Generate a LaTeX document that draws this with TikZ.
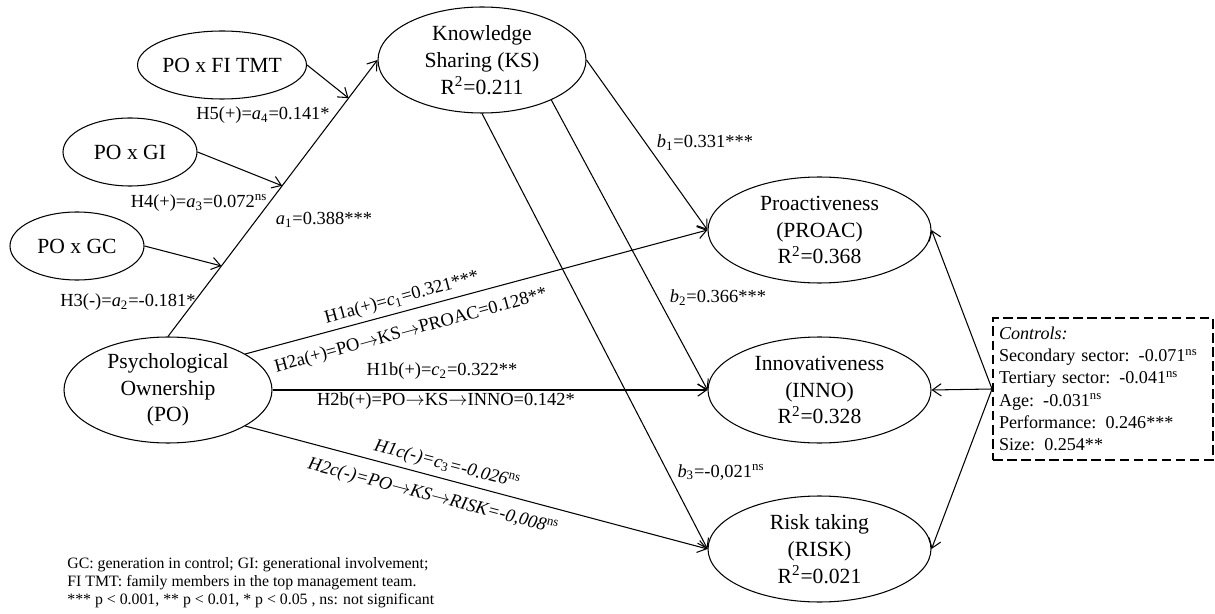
\documentclass[tikz,border=0pt]{standalone}
\usepackage{fontspec}
\setmainfont{Liberation Serif}
\usetikzlibrary{shapes.geometric, arrows.meta}

\tikzset{
  construct/.style={draw, ellipse, inner sep=0pt, align=center, line width=0.6pt, font=\fontsize{12.3}{15.2}\selectfont},
  moderator/.style={construct, minimum width=2.68cm, minimum height=1.36cm},
  latent/.style={construct, minimum width=4.16cm, minimum height=2.12cm},
  outcome/.style={construct, minimum width=4.46cm, minimum height=2.12cm},
  effect/.style={-{Straight Barb[length=5pt,width=7pt]}, line width=0.6pt},
  coef/.style={font=\fontsize{10.5}{12}\selectfont, inner sep=0pt},
}

\begin{document}
\begin{tikzpicture}
\useasboundingbox (0,0) rectangle (24.3,12.26);

% constructs
\node[moderator] (FI) at (4.44,10.96) {PO x FI TMT};
\node[moderator] (GI) at (2.60,9.22) {PO x GI};
\node[moderator] (GC) at (1.54,7.34) {PO x GC};
\node[latent] (KS) at (9.64,11.06) {Knowledge\\Sharing (KS)\\R\textsuperscript{2}=0.211};
\node[latent] (PO) at (3.36,4.46) {Psychological\\Ownership\\(PO)};
\node[outcome] (PROAC) at (16.39,7.66) {Proactiveness\\(PROAC)\\R\textsuperscript{2}=0.368};
\node[outcome] (INNO) at (16.39,4.46) {Innovativeness\\(INNO)\\R\textsuperscript{2}=0.328};
\node[outcome] (RISK) at (16.39,1.28) {Risk taking\\(RISK)\\R\textsuperscript{2}=0.021};
\node[draw, line width=1.1pt, dash pattern=on 5.5pt off 2.5pt, align=left, text width=4.16cm, inner xsep=0.12cm, minimum height=2.84cm, font=\fontsize{10.3}{12.7}\selectfont] (CTRL) at (22.06,4.48)
  {\textit{Controls:}\\Secondary sector: -0.071\textsuperscript{ns}\\Tertiary sector: -0.041\textsuperscript{ns}\\Age: -0.031\textsuperscript{ns}\\Performance: 0.246***\\Size: 0.254**};

% PO -> KS with moderators
\draw[effect] (PO.north) -- coordinate[pos=0.255] (xGC) coordinate[pos=0.545] (xGI) coordinate[pos=0.862] (xFI) (KS.west);
\draw[effect] (FI.east) -- (xFI);
\draw[effect] (GI.east) -- (xGI);
\draw[effect] (GC.east) -- (xGC);

% direct effects
\draw[effect] (PO.25) -- (PROAC.west);
\draw[effect] (PO.east) -- (INNO.west);
\draw[effect] (PO.-25) -- (RISK.west);

% KS -> outcomes
\draw[effect] (KS.east) -- (PROAC.west);
\draw[effect] (KS.-30) -- (INNO.west);
\draw[effect] (KS.south) -- (RISK.west);

% controls
\draw[effect] (CTRL.west) -- (PROAC.east);
\draw[effect] (CTRL.west) -- (INNO.east);
\draw[effect] (CTRL.west) -- (RISK.east);

% coefficients
\node[coef] (lH5) at (5.26,9.96) {H5(+)=\textit{a}\textsubscript{4}=0.141*};
\node[coef] (lH4) at (3.98,8.20) {H4(+)=\textit{a}\textsubscript{3}=0.072\textsuperscript{ns}};
\node[coef] (la1) at (6.48,7.86) {\textit{a}\textsubscript{1}=0.388***};
\node[coef] (lH3) at (2.56,6.22) {H3(-)=\textit{a}\textsubscript{2}=-0.181*};
\node[coef] (lb1) at (14.10,9.40) {\textit{b}\textsubscript{1}=0.331***};
\node[coef] (lb2) at (14.36,6.30) {\textit{b}\textsubscript{2}=0.366***};
\node[coef] (lb3) at (14.42,2.82) {\textit{b}\textsubscript{3}=-0,021\textsuperscript{ns}};
\node[coef, rotate=15.2] (lH1a) at (8.04,6.30) {H1a(+)=\textit{c}\textsubscript{1}=0.321***};
\node[coef, rotate=15.2] (lH2a) at (8.22,5.64) {H2a(+)=PO$\rightarrow$KS$\rightarrow$PROAC=0.128**};
\node[coef] (lH1b) at (8.84,4.84) {H1b(+)=\textit{c}\textsubscript{2}=0.322**};
\node[coef] (lH2b) at (8.92,4.24) {H2b(+)=PO$\rightarrow$KS$\rightarrow$INNO=0.142*};
\node[coef, rotate=-14.6] (lH1c) at (8.94,2.96) {\textit{H1c(-)=c}\textsubscript{3}\textit{=-0.026}\textsuperscript{ns}};
\node[coef, rotate=-14.6] (lH2c) at (8.66,2.32) {\textit{H2c(-)=PO$\rightarrow$KS$\rightarrow$RISK=-0,008}\textsuperscript{ns}};

% note
\node[anchor=west, align=left, inner sep=0pt, font=\fontsize{9}{10.2}\selectfont] (note) at (1.34,0.60)
  {GC: generation in control; GI: generational involvement;\\FI TMT: family members in the top management team.\\*** p < 0.001, ** p < 0.01, * p < 0.05 , ns: not significant};
\end{tikzpicture}
\end{document}
